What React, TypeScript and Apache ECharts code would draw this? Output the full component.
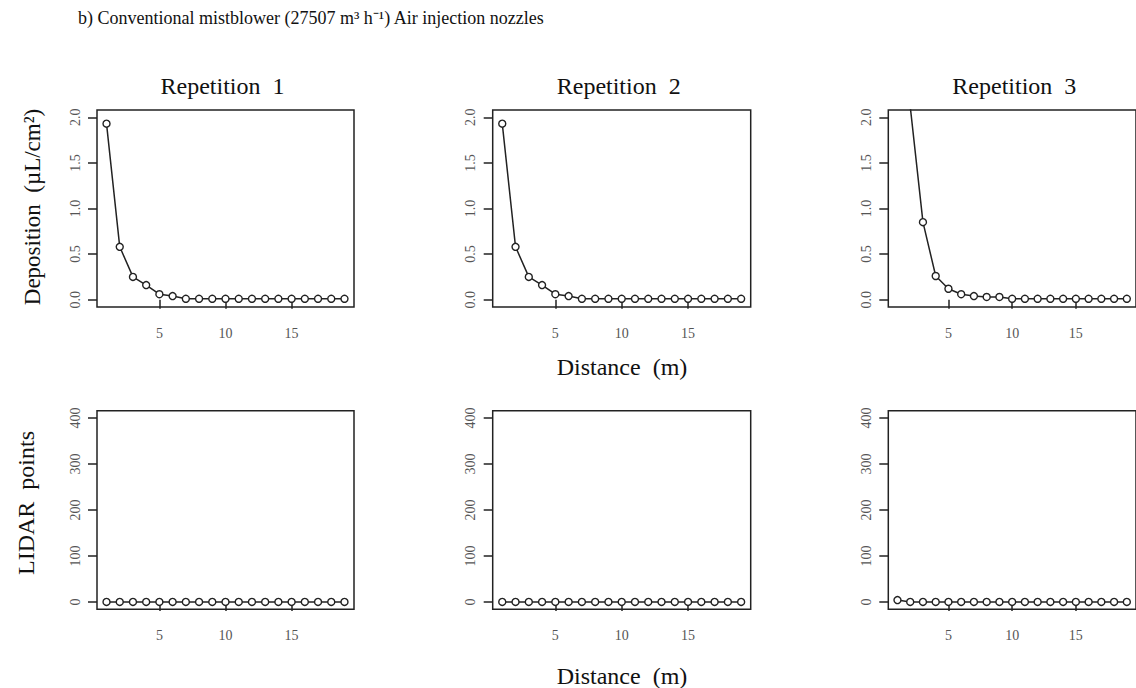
import React, { useEffect, useRef } from "react";
import * as echarts from "echarts";

const distance = [1, 2, 3, 4, 5, 6, 7, 8, 9, 10, 11, 12, 13, 14, 15, 16, 17, 18, 19];
const depositionRep1 = [1.93, 0.58, 0.25, 0.16, 0.06, 0.04, 0.01, 0.01, 0.01, 0.01, 0.01, 0.01, 0.01, 0.01, 0.01, 0.01, 0.01, 0.01, 0.01];
const depositionRep2 = [1.93, 0.58, 0.25, 0.16, 0.06, 0.04, 0.01, 0.01, 0.01, 0.01, 0.01, 0.01, 0.01, 0.01, 0.01, 0.01, 0.01, 0.01, 0.01];
const depositionRep3 = [3.6, 2.12, 0.85, 0.26, 0.12, 0.06, 0.04, 0.03, 0.03, 0.01, 0.01, 0.01, 0.01, 0.01, 0.01, 0.01, 0.01, 0.01, 0.01];
const lidarRep1 = [0, 0, 0, 0, 0, 0, 0, 0, 0, 0, 0, 0, 0, 0, 0, 0, 0, 0, 0];
const lidarRep2 = [0, 0, 0, 0, 0, 0, 0, 0, 0, 0, 0, 0, 0, 0, 0, 0, 0, 0, 0];
const lidarRep3 = [4, 0, 0, 0, 0, 0, 0, 0, 0, 0, 0, 0, 0, 0, 0, 0, 0, 0, 0];

const xTicks = [5, 10, 15];
const depTicks = [0, 0.5, 1, 1.5, 2];
const lidarTicks = [0, 100, 200, 300, 400];
const repTitles = ["Repetition  1", "Repetition  2", "Repetition  3"];

const headerText = "b) Conventional mistblower (27507 m³ h⁻¹) Air injection nozzles";
const depLabel = "Deposition  (µL/cm²)";
const lidarLabel = "LIDAR  points";
const xLabel = "Distance  (m)";

const SERIF = "'Liberation Serif', 'Times New Roman', serif";

export default function App() {
  const ref = useRef<HTMLDivElement>(null);

  useEffect(() => {
    if (!ref.current) return;
    const chart = echarts.init(ref.current, undefined, { renderer: "svg" });

    const colLeft = [97, 492.7, 888.3];
    const colWidth = [257, 258, 258];
    const rowTop = [110, 410.7];
    const rowHeight = [197, 198.6];

    const grids: any[] = [];
    const xAxes: any[] = [];
    const yAxes: any[] = [];
    const series: any[] = [];
    const depData = [depositionRep1, depositionRep2, depositionRep3];
    const lidarData = [lidarRep1, lidarRep2, lidarRep3];

    let idx = 0;
    for (let r = 0; r < 2; r++) {
      for (let c = 0; c < 3; c++) {
        grids.push({
          left: colLeft[c],
          top: rowTop[r],
          width: colWidth[c],
          height: rowHeight[r],
          show: true,
          borderColor: "#222",
          borderWidth: 1.5,
          backgroundColor: "transparent",
          containLabel: false,
        });
        xAxes.push({
          type: "value",
          gridIndex: idx,
          min: 0.28,
          max: 19.72,
          axisLine: { show: false },
          splitLine: { show: false },
          axisTick: {
            show: true,
            inside: false,
            length: 9,
            customValues: xTicks,
            lineStyle: { color: "#222", width: 1.5 },
          },
          axisLabel: {
            show: true,
            customValues: xTicks,
            margin: 19,
            color: "#555",
            fontFamily: SERIF,
            fontSize: 14,
          },
        });
        const ticks = r === 0 ? depTicks : lidarTicks;
        yAxes.push({
          type: "value",
          gridIndex: idx,
          min: r === 0 ? -0.08 : -16,
          max: r === 0 ? 2.08 : 416,
          axisLine: { show: false },
          splitLine: { show: false },
          axisTick: {
            show: true,
            inside: false,
            length: 9,
            customValues: ticks,
            lineStyle: { color: "#222", width: 1.5 },
          },
          axisLabel: {
            show: true,
            customValues: ticks,
            rotate: 90,
            margin: 15,
            color: "#555",
            fontFamily: SERIF,
            fontSize: 14,
            formatter: (v: number) => (r === 0 ? v.toFixed(1) : String(v)),
          },
        });
        const vals = r === 0 ? depData[c] : lidarData[c];
        series.push({
          type: "line",
          name: (r === 0 ? "Deposition " : "LIDAR ") + repTitles[c],
          xAxisIndex: idx,
          yAxisIndex: idx,
          data: distance.map((d, i) => [d, vals[i]]),
          clip: true,
          symbol: "circle",
          symbolSize: 7,
          showAllSymbol: true,
          lineStyle: { color: "#222", width: 1.5 },
          itemStyle: { color: "#fff", borderColor: "#222", borderWidth: 1.4 },
        });
        idx++;
      }
    }

    const graphics: any[] = [
      {
        type: "text",
        left: 78,
        top: 9,
        style: { text: headerText, font: `18px ${SERIF}`, fill: "#111" },
      },
      {
        type: "text",
        x: 32,
        y: 207,
        rotation: Math.PI / 2,
        style: { text: depLabel, font: `23px ${SERIF}`, fill: "#111", align: "center", verticalAlign: "middle" },
      },
      {
        type: "text",
        x: 26,
        y: 503,
        rotation: Math.PI / 2,
        style: { text: lidarLabel, font: `24px ${SERIF}`, fill: "#111", align: "center", verticalAlign: "middle" },
      },
      {
        type: "text",
        x: 622,
        y: 367,
        style: { text: xLabel, font: `24px ${SERIF}`, fill: "#111", align: "center", verticalAlign: "middle" },
      },
      {
        type: "text",
        x: 622,
        y: 676,
        style: { text: xLabel, font: `24px ${SERIF}`, fill: "#111", align: "center", verticalAlign: "middle" },
      },
    ];
    for (let c = 0; c < 3; c++) {
      graphics.push({
        type: "text",
        x: colLeft[c] + colWidth[c] / 2 - 3,
        y: 86,
        style: { text: repTitles[c], font: `24px ${SERIF}`, fill: "#111", align: "center", verticalAlign: "middle" },
      });
    }

    chart.setOption({
      animation: false,
      backgroundColor: "#fff",
      grid: grids,
      xAxis: xAxes,
      yAxis: yAxes,
      series,
      graphic: graphics,
    });

    return () => chart.dispose();
  }, []);

  return (
    <div
      ref={ref}
      style={{ position: "fixed", left: 0, top: 0, width: 1136, height: 688, background: "#fff" }}
    />
  );
}
